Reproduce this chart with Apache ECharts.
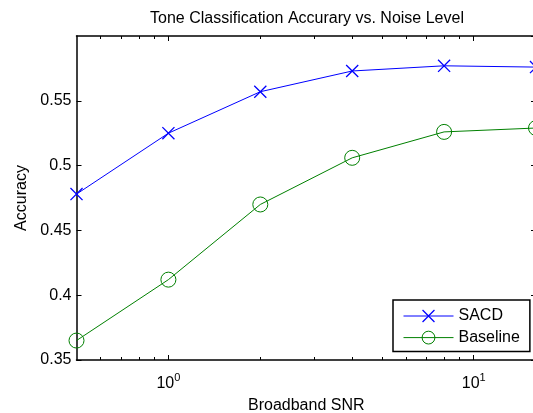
<!DOCTYPE html>
<html>
<head>
<meta charset="utf-8">
<script src="https://cdn.jsdelivr.net/npm/echarts@6/dist/echarts.min.js"></script>
<style>
html,body{margin:0;padding:0;background:#fff;}
#chart{width:533px;height:413px;}
</style>
</head>
<body>
<div id="chart"></div>
<script>
// ---- data ----
const snrValues = [0.5, 1, 2, 4, 8, 16];
const sacdAccuracy = [0.478, 0.525, 0.557, 0.573, 0.577, 0.576];
const baselineAccuracy = [0.365, 0.412, 0.470, 0.506, 0.526, 0.529];
const seriesNames = ['SACD', 'Baseline'];
const xMajorTicks = [1, 10];
const xMinorTicks = [0.6, 0.7, 0.8, 0.9, 2, 3, 4, 5, 6, 7, 8, 9];
const yTickLabels = ['0.35', '0.4', '0.45', '0.5', '0.55'];
const titleText = 'Tone Classification Accurary vs. Noise Level';
const xLabel = 'Broadband SNR';
const yLabel = 'Accuracy';

const FONT = 'Liberation Sans, Arial, Helvetica, sans-serif';
const chart = echarts.init(document.getElementById('chart'), null, {renderer: 'canvas'});

const pairs = (xs, ys) => xs.map((x, i) => [x, ys[i]]);
const X_PATH = 'path://M0,0.7L0.7,0L10,9.3L9.3,10Z M9.3,0L10,0.7L0.7,10L0,9.3Z';
const AXIS_W = 1.5;

const logAxisBase = {
  type: 'log', logBase: 10, min: 0.5, max: 16, gridIndex: 0,
  splitLine: {show: false}, minorTick: {show: false}, minorSplitLine: {show: false}
};

const option = {
  animation: false,
  backgroundColor: '#fff',
  title: [{
    text: titleText, left: 307, top: 11, textAlign: 'center', padding: 0,
    textStyle: {fontFamily: FONT, fontSize: 16, fontWeight: 'normal', color: '#000'}
  }],
  grid: {left: 76.5, top: 36, width: 459.5, height: 324, containLabel: false, outerBoundsMode: 'none'},
  legend: {
    orient: 'vertical', left: 393, top: 300,
    padding: [8, 10, 6, 10], itemWidth: 50, itemHeight: 16, itemGap: 5.6,
    borderColor: '#000', borderWidth: 1.5, backgroundColor: '#fff',
    lineStyle: {width: 1},
    itemStyle: {borderWidth: 1},
    textStyle: {fontFamily: FONT, fontSize: 16, color: '#000'},
    data: seriesNames, selectedMode: false
  },
  xAxis: [
    Object.assign({}, logAxisBase, {
      position: 'bottom',
      name: xLabel, nameLocation: 'middle', nameGap: 38,
      nameTextStyle: {fontFamily: FONT, fontSize: 16, color: '#000'},
      axisLine: {show: true, lineStyle: {color: '#000', width: AXIS_W}},
      axisTick: {show: true, inside: true, length: 5, customValues: xMajorTicks, lineStyle: {color: '#000'}},
      axisLabel: {
        show: true, customValues: xMajorTicks, margin: 12, color: '#000',
        formatter: v => '{b|10}{s|' + Math.round(Math.log10(v)) + '}',
        rich: {
          b: {fontFamily: FONT, fontSize: 16, color: '#000'},
          s: {fontFamily: FONT, fontSize: 11, color: '#000', padding: [0, 0, 13, 0]}
        }
      }
    }),
    Object.assign({}, logAxisBase, {
      position: 'bottom',
      axisLine: {show: false},
      axisTick: {show: true, inside: true, length: 3, customValues: xMinorTicks, lineStyle: {color: '#000'}},
      axisLabel: {show: false}
    }),
    Object.assign({}, logAxisBase, {
      position: 'top',
      axisLine: {show: true, lineStyle: {color: '#000', width: AXIS_W}},
      axisTick: {show: true, inside: true, length: 5, customValues: xMajorTicks, lineStyle: {color: '#000'}},
      axisLabel: {show: false}
    }),
    Object.assign({}, logAxisBase, {
      position: 'top',
      axisLine: {show: false},
      axisTick: {show: true, inside: true, length: 3, customValues: xMinorTicks, lineStyle: {color: '#000'}},
      axisLabel: {show: false}
    })
  ],
  yAxis: [
    {
      type: 'value', position: 'left', min: 0.35, max: 0.6, interval: 0.05,
      name: yLabel, nameLocation: 'middle', nameGap: 47,
      nameTextStyle: {fontFamily: FONT, fontSize: 16, color: '#000'},
      splitLine: {show: false},
      axisLine: {show: true, lineStyle: {color: '#000', width: AXIS_W}},
      axisTick: {show: true, inside: true, length: 5, lineStyle: {color: '#000'}},
      axisLabel: {
        margin: 5, fontFamily: FONT, fontSize: 16, color: '#000',
        showMaxLabel: false,
        formatter: v => {
          const s = String(+v.toFixed(2));
          return yTickLabels.indexOf(s) >= 0 ? s : '';
        }
      }
    },
    {
      type: 'value', position: 'right', min: 0.35, max: 0.6, interval: 0.05,
      splitLine: {show: false},
      axisLine: {show: true, lineStyle: {color: '#000', width: AXIS_W}},
      axisTick: {show: true, inside: true, length: 5, lineStyle: {color: '#000'}},
      axisLabel: {show: false}
    }
  ],
  series: [
    {
      name: seriesNames[0], type: 'line', xAxisIndex: 0, yAxisIndex: 0,
      data: pairs(snrValues, sacdAccuracy),
      symbol: X_PATH, symbolSize: 13, showAllSymbol: true,
      lineStyle: {color: '#0000ff', width: 1},
      itemStyle: {color: '#0000ff', borderWidth: 0},
      emphasis: {disabled: true}, clip: false
    },
    {
      name: seriesNames[1], type: 'line', xAxisIndex: 0, yAxisIndex: 0,
      data: pairs(snrValues, baselineAccuracy),
      symbol: 'circle', symbolSize: 15, showAllSymbol: true,
      lineStyle: {color: '#008000', width: 1},
      itemStyle: {color: 'rgba(0,0,0,0)', borderColor: '#008000', borderWidth: 1},
      emphasis: {disabled: true}, clip: false
    }
  ]
};
chart.setOption(option);
</script>
</body>
</html>
